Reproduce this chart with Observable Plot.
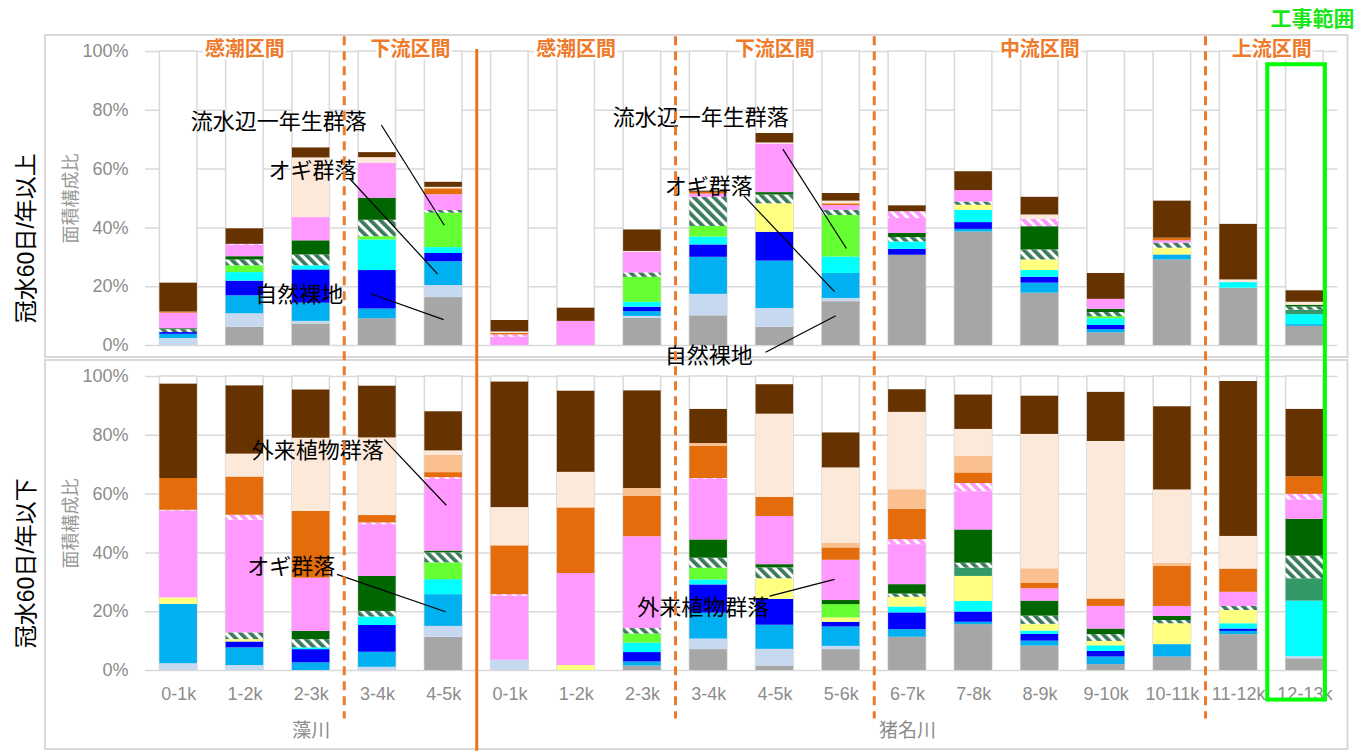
<!DOCTYPE html>
<html>
<head>
<meta charset="utf-8">
<script src="https://cdn.jsdelivr.net/npm/d3@7"></script>
<script src="https://cdn.jsdelivr.net/npm/@observablehq/plot@0.6"></script>
<style>
  html, body { margin: 0; padding: 0; background: #fff; }
  #chart { position: absolute; left: 0; top: 0; }
</style>
</head>
<body>
<svg width="0" height="0" style="position:absolute">
  <defs>
    <pattern id="hatchG" patternUnits="userSpaceOnUse" width="7" height="7" patternTransform="rotate(-45)">
      <rect width="7" height="7" fill="#ffffff"></rect>
      <rect width="3.8" height="7" fill="#3b7a5c"></rect>
    </pattern>
    <pattern id="hatchP" patternUnits="userSpaceOnUse" width="7" height="7" patternTransform="rotate(-45)">
      <rect width="7" height="7" fill="#ffffff"></rect>
      <rect width="4" height="7" fill="#ff99ff"></rect>
    </pattern>
  </defs>
</svg>
<div id="chart"></div>
<script>
// ---------- data ----------
const rivers = ["藻川", "猪名川"];
const barLabels = ["0-1k","1-2k","2-3k","3-4k","4-5k",
  "0-1k","1-2k","2-3k","3-4k","4-5k","5-6k","6-7k","7-8k","8-9k","9-10k","10-11k","11-12k","12-13k"];
const barRiver = [0,0,0,0,0, 1,1,1,1,1,1,1,1,1,1,1,1,1];
const panels = ["冠水60日/年以上", "冠水60日/年以下"];

// stack order, bottom to top
const seriesKeys = ["自然裸地","bluegray","skyblue","blue","cyan","yellow","lightgreen","seagreen",
  "オギ群落hatch","darkgreen","pink","pinkhatch","orange","lightorange","lightpeach","brown"];
const seriesColors = ["#a6a6a6","#c6d9f1","#00b0f0","#0000ff","#00ffff","#ffff80","#66ff33","#339966",
  "url(#hatchG)","#006600","#ff99ff","url(#hatchP)","#e46c0a","#fac090","#fde9d9","#663300"];

// upper panel (冠水60日/年以上), rows = series, columns = bars
const upperValues = [
  [0, 6.2, 7.3, 9.1, 16.3, 0, 0, 9.2, 10.1, 6.2, 14.9, 30.7, 38.6, 17.8, 4.3, 29.1, 19.5, 6.5],
  [2.4, 4.6, 0.9, 0, 4.1, 0, 0, 0.7, 7.3, 6.4, 1.1, 0, 0, 0, 0, 0, 0, 0],
  [1.4, 6.1, 6.2, 3.3, 8.1, 0, 0, 1.6, 12.6, 16.1, 8.5, 0, 0.9, 3.4, 1.1, 1.7, 0, 0.6],
  [0.6, 5.0, 11.3, 13.1, 2.8, 0, 0, 1.5, 4.2, 9.8, 0, 2.0, 2.3, 2.0, 1.4, 0, 0, 0],
  [0, 2.9, 1.4, 10.4, 2.0, 0, 0, 1.7, 2.7, 0, 5.6, 2.5, 4.2, 2.3, 2.3, 0, 1.9, 3.4],
  [0, 0, 0, 0, 0, 0, 0, 0, 0, 9.7, 0, 0, 1.7, 3.6, 0, 2.3, 0, 0],
  [0, 2.3, 0, 1.1, 11.7, 0, 0, 8.5, 3.6, 0, 14.1, 0, 0, 0, 0.7, 0, 0, 0],
  [0, 0, 0, 0, 0, 0, 0, 0, 0, 0, 0, 0, 0, 0, 0, 0, 0, 1.5],
  [1.0, 2.0, 3.7, 5.6, 0.9, 0, 0, 1.5, 9.9, 3.0, 1.8, 1.5, 1.1, 3.4, 1.4, 1.7, 0, 1.1],
  [0.3, 1.1, 4.8, 7.5, 0, 0, 0, 0, 0, 0.8, 0, 1.4, 0, 7.9, 1.1, 0, 0, 0.6],
  [5.3, 3.9, 7.9, 11.8, 5.4, 2.8, 8.2, 7.0, 1.1, 16.5, 1.6, 5.1, 3.9, 0, 3.4, 0.8, 0, 0],
  [0, 0.3, 0, 0, 0, 0.8, 0, 0, 0, 0, 0, 2.3, 0, 2.5, 0, 0, 0, 0],
  [0.4, 0, 0, 0, 2.0, 0.5, 0, 0, 0.6, 0, 0.6, 0, 0, 0, 0, 0.9, 0, 0],
  [0, 0, 0, 0, 0, 0, 0, 0, 0, 0, 0, 0, 0, 0, 0, 0, 0, 0],
  [0, 0, 20.3, 2.0, 0.5, 0.5, 0, 0.3, 0, 0.4, 0.9, 0, 0, 1.5, 0, 0, 0.9, 1.0],
  [9.8, 5.3, 3.4, 1.7, 1.7, 3.9, 4.5, 7.3, 0.4, 3.2, 2.6, 2.0, 6.4, 6.0, 8.8, 12.6, 18.9, 3.9]
];

// lower panel (冠水60日/年以下)
const lowerValues = [
  [0, 0, 0, 0, 11.3, 0, 0, 1.5, 7.1, 1.5, 7.1, 11.3, 15.6, 8.3, 2.0, 4.6, 12.2, 4.0],
  [2.3, 1.7, 0, 1.1, 3.7, 3.5, 0, 0, 3.6, 5.7, 1.1, 0, 0, 0, 0, 0, 0, 0.7],
  [20.2, 6.0, 2.6, 5.1, 10.8, 0, 0, 1.4, 8.8, 8.2, 6.6, 2.6, 0.8, 1.7, 2.6, 4.2, 1.1, 0],
  [0, 2.0, 4.5, 9.1, 0, 0, 0, 3.2, 9.6, 8.8, 1.6, 5.7, 3.5, 2.3, 1.9, 0, 0.8, 0],
  [0, 0, 0.6, 2.9, 5.1, 0, 0, 3.2, 1.7, 0, 0, 2.0, 3.6, 1.1, 1.9, 0, 1.8, 18.9],
  [2.2, 0.8, 0, 0, 0, 0, 1.7, 0, 0, 7.0, 1.5, 3.3, 8.5, 2.3, 1.5, 7.1, 4.5, 0],
  [0, 0, 0, 0, 5.7, 0, 0, 3.1, 4.0, 0, 4.5, 0, 0, 0, 0, 0, 0, 0],
  [0, 0, 0, 0, 0, 0, 0, 0, 0, 0, 0, 0, 2.8, 0, 0, 0, 0, 7.6],
  [0, 2.3, 2.8, 1.9, 3.4, 0, 0, 1.9, 3.4, 3.7, 0, 1.1, 1.7, 2.8, 2.3, 1.1, 1.4, 7.7],
  [0, 0, 2.8, 11.9, 0.6, 0, 0, 0, 6.2, 1.1, 1.4, 3.2, 11.3, 5.1, 1.9, 1.4, 0, 12.5],
  [29.5, 38.3, 18.1, 17.6, 24.4, 21.8, 31.3, 31.2, 20.6, 16.4, 13.7, 13.6, 13.0, 4.2, 7.7, 3.4, 4.8, 6.6],
  [0.3, 1.7, 0, 0.6, 0.6, 0.5, 0, 0, 0.3, 0, 0, 1.7, 2.8, 0, 0, 0, 0, 1.9],
  [10.8, 13.0, 22.7, 2.5, 1.7, 16.6, 22.3, 13.7, 11.0, 6.5, 4.2, 10.4, 3.6, 1.8, 2.5, 13.6, 7.9, 6.0],
  [0, 0, 0, 0, 5.9, 0, 0, 2.7, 0.9, 0, 1.5, 6.6, 5.7, 5.0, 0, 1.1, 0, 0],
  [0, 7.8, 24.9, 26.4, 1.5, 13.0, 12.1, 0, 0, 28.3, 25.7, 26.3, 9.1, 45.7, 53.6, 24.9, 11.1, 0],
  [32.1, 23.2, 16.4, 17.6, 13.3, 42.7, 27.6, 33.2, 11.6, 10.0, 11.9, 7.7, 11.7, 13.0, 16.7, 28.3, 52.7, 22.9]
];

const yTicks = [0, 20, 40, 60, 80, 100];

// sections (bar index ranges)
const sections = [
  {name: "感潮区間", from: 0, to: 2, dashedAfter: true},
  {name: "下流区間", from: 3, to: 4, dashedAfter: false},
  {name: "感潮区間", from: 5, to: 7, dashedAfter: true},
  {name: "下流区間", from: 8, to: 10, dashedAfter: true},
  {name: "中流区間", from: 11, to: 15, dashedAfter: true},
  {name: "上流区間", from: 16, to: 17, dashedAfter: false}
];

// annotations: text anchor and leader line, in data units (bar index, %)
const annotations = [
  {panel: panels[0], label: "流水辺一年生群落", x: 1.51, y: 76.1, x1: 3.06, y1: 75.0, x2: 4.01, y2: 40.9},
  {panel: panels[0], label: "オギ群落", x: 2.02, y: 59.5, x1: 2.58, y1: 56.8, x2: 3.91, y2: 24.3},
  {panel: panels[0], label: "自然裸地", x: 1.82, y: 17.2, x1: 2.9, y1: 17.6, x2: 4.0, y2: 8.8},
  {panel: panels[0], label: "流水辺一年生群落", x: 7.88, y: 77.5, x1: 9.12, y1: 66.8, x2: 10.08, y2: 33.0},
  {panel: panels[0], label: "オギ群落", x: 8.0, y: 53.8, x1: 8.53, y1: 51.0, x2: 9.9, y2: 18.3},
  {panel: panels[0], label: "自然裸地", x: 8.0, y: -3.7, x1: 8.86, y1: -2.3, x2: 9.92, y2: 10.1},
  {panel: panels[1], label: "外来植物群落", x: 2.1, y: 74.6, x1: 3.1, y1: 78.6, x2: 4.04, y2: 56.2},
  {panel: panels[1], label: "オギ群落", x: 1.7, y: 35.1, x1: 2.39, y1: 32.7, x2: 4.03, y2: 20.0},
  {panel: panels[1], label: "外来植物群落", x: 7.92, y: 21.3, x1: 8.92, y1: 25.3, x2: 9.9, y2: 31.0}
];

// ---------- build stacked rows ----------
const rows = [];
function addPanel(panel, matrix) {
  barLabels.forEach((_, i) => {
    let acc = 0;
    seriesKeys.forEach((s, k) => {
      const v = matrix[k][i];
      if (v > 0) rows.push({panel, i, series: s, color: seriesColors[k], y1: acc, y2: acc + v});
      acc += v;
    });
  });
}
addPanel(panels[0], upperValues);
addPanel(panels[1], lowerValues);

const columns = [];
panels.forEach(p => barLabels.forEach((_, i) => columns.push({panel: p, i})));

const half = 0.283;
const orange = "#ee7b2c";
const dashedSeps = sections.filter(s => s.dashedAfter).map(s => s.to + 0.5);
const riverSep = [barRiver.lastIndexOf(0) + 0.5];
const riverLabels = rivers.map((r, k) => {
  const idx = barRiver.map((v, i) => v === k ? i : null).filter(v => v !== null);
  return {label: r, x: (idx[0] + idx[idx.length - 1]) / 2};
});

const chart = Plot.plot({
  width: 1361,
  height: 752,
  marginLeft: 145,
  marginRight: 23.5,
  marginTop: 50,
  marginBottom: 81,
  x: {domain: [-0.5, 17.5], axis: null},
  y: {domain: [0, 100], axis: null},
  fy: {domain: panels, axis: null, paddingInner: 0.095, paddingOuter: 0},
  color: {type: "identity"},
  style: {fontFamily: "'Liberation Sans', 'Noto Sans CJK JP', sans-serif", background: "white", overflow: "visible"},
  marks: [
    // panel boxes
    Plot.rect([panels[0]], {fy: d => d, insetLeft: -100, insetRight: -10, insetTop: -16, insetBottom: -12,
      fill: "none", stroke: "#d9d9d9", strokeWidth: 2}),
    Plot.rect([panels[1]], {fy: d => d, insetLeft: -100, insetRight: -10, insetTop: -16, insetBottom: -79,
      fill: "none", stroke: "#d9d9d9", strokeWidth: 2}),
    Plot.gridY({ticks: yTicks, stroke: "#d9d9d9", strokeOpacity: 1, strokeWidth: 1.5}),
    // background columns
    Plot.rect(columns, {x1: d => d.i - half, x2: d => d.i + half, y1: 0, y2: 100, fy: "panel",
      fill: "white", stroke: "#d9d9d9", strokeWidth: 1.5}),
    // stacked segments
    Plot.rect(rows, {x1: d => d.i - half, x2: d => d.i + half, y1: "y1", y2: "y2", fy: "panel", fill: "color"}),
    Plot.axisY({ticks: yTicks, tickFormat: d => d + "%", tickSize: 0, tickPadding: 17, fontSize: 18,
      fill: "#8c8c8c"}),
    Plot.axisX({ticks: d3.range(barLabels.length), tickFormat: i => barLabels[i], tickSize: 0, tickPadding: 17,
      fontSize: 18, fill: "#8c8c8c", facetAnchor: "bottom"}),
    // river group labels
    Plot.text(riverLabels, {x: "x", y: -20.7, fy: () => panels[1], text: "label", fontSize: 19, fill: "#8c8c8c"}),
    // panel labels
    Plot.text(panels, {x: -2.3, y: 36.5, fy: d => d, text: d => d, rotate: -90, fontSize: 23, fill: "#000"}),
    Plot.text(panels, {x: -1.62, y: 50, fy: d => d, text: () => "面積構成比", rotate: -90, fontSize: 18, fill: "#9a9a9a"}),
    // section labels
    Plot.text(sections, {x: d => (d.from + d.to) / 2, y: 100, dy: -2, fy: () => panels[0], text: "name",
      fontSize: 20, fontWeight: "bold", fill: orange, stroke: "white", strokeWidth: 5, paintOrder: "stroke"}),
    // annotations
    Plot.link(annotations, {x1: "x1", y1: "y1", x2: "x2", y2: "y2", fy: "panel", stroke: "#000", strokeWidth: 1.2}),
    Plot.text(annotations, {x: "x", y: "y", fy: "panel", text: "label", fontSize: 22, fill: "#000"}),
    // section separators
    Plot.ruleX(dashedSeps, {y1: 105, y2: -127, fy: () => panels[0], stroke: orange, strokeWidth: 3,
      strokeDasharray: "9,6"}),
    Plot.ruleX(riverSep, {y1: 100.7, y2: -138, fy: () => panels[0], stroke: "#e9741f", strokeWidth: 3}),
    // construction range
    Plot.rect([{x1: 16.44, x2: 17.31}], {x1: "x1", x2: "x2", y1: 95.5, y2: -120.6, fy: () => panels[0],
      fill: "none", stroke: "#00ff00", strokeWidth: 4}),
    Plot.text(["工事範囲"], {x: 16.48, y: 111, fy: () => panels[0], text: d => d, textAnchor: "start",
      fontSize: 21, fontWeight: "bold", fill: "#19e619"})
  ]
});
document.getElementById("chart").appendChild(chart);
</script>
</body>
</html>
